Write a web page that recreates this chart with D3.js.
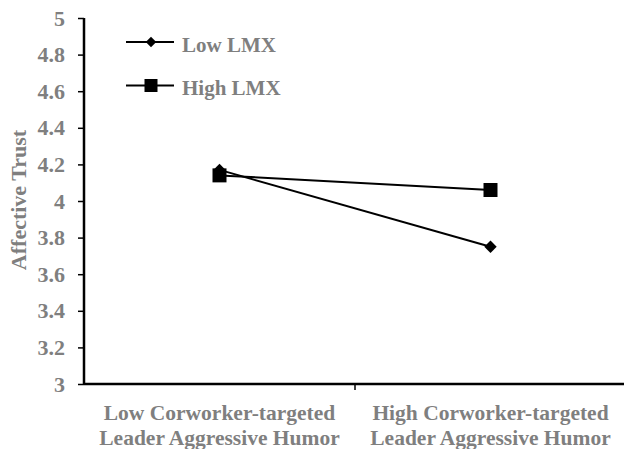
<!DOCTYPE html>
<html><head><meta charset="utf-8">
<script src="https://cdn.jsdelivr.net/npm/d3@7"></script>
<style>body{margin:0;background:#fff}svg{display:block}</style>
</head><body><svg id="c" width="624" height="449"></svg>
<script>
const categories = [["Low Corworker-targeted","Leader Aggressive Humor"],["High Corworker-targeted","Leader Aggressive Humor"]];
const seriesNames = ["Low LMX","High LMX"];
const lowLMX = [4.17, 3.75];
const highLMX = [4.14, 4.06];
const yTicks = [3,3.2,3.4,3.6,3.8,4,4.2,4.4,4.6,4.8,5];
const yTickLabels = ["3","3.2","3.4","3.6","3.8","4","4.2","4.4","4.6","4.8","5"];
const yTitle = "Affective Trust";

(function(){
const svg = d3.select("#c");
const gray = "#7f7f7f";
const font = "'Liberation Serif','Times New Roman',serif";
const mL = 84, mR = 626, mT = 18, mB = 384;

const x = d3.scaleBand().domain([0,1]).range([mL,mR]);
const y = d3.scaleLinear().domain([3,5]).range([mB,mT]);

// y axis
const ya = svg.append("g").attr("transform",`translate(${mL},0)`)
  .call(d3.axisLeft(y).tickValues(yTicks).tickFormat((d,i)=>yTickLabels[i]).tickSize(6).tickPadding(13));
ya.select(".domain").attr("stroke","#000").attr("stroke-width",2.5).attr("d",`M0,${mT}V${mB}`);
ya.selectAll(".tick line").attr("stroke","#000").attr("stroke-width",1.5);
ya.selectAll(".tick text").attr("fill",gray).attr("font-family",font).attr("font-weight","bold").attr("font-size",22);

// x axis
const xa = svg.append("g").attr("transform",`translate(0,${mB})`)
  .call(d3.axisBottom(x).tickFormat("").tickSize(0));
xa.select(".domain").attr("stroke","#000").attr("stroke-width",2.5).attr("d",`M${mL},0H${mR}`);
xa.selectAll(".tick").remove();
xa.append("line").attr("x1",x(1)).attr("x2",x(1)).attr("y1",0).attr("y2",6).attr("stroke","#000").attr("stroke-width",1.5);

// category labels
categories.forEach((lines,i)=>{
  const t = svg.append("text").attr("x",x(i)+x.bandwidth()/2).attr("y",420)
    .attr("text-anchor","middle").attr("fill",gray).attr("font-family",font)
    .attr("font-weight","bold").attr("font-size",21.5);
  lines.forEach((l,j)=>t.append("tspan").attr("x",x(i)+x.bandwidth()/2).attr("dy",j?24.5:0).text(l));
});

// y title
svg.append("text").attr("transform",`translate(26,200) rotate(-90)`).attr("text-anchor","middle")
  .attr("fill",gray).attr("font-family",font).attr("font-weight","bold").attr("font-size",22).text(yTitle);

const cx = i=>x(i)+x.bandwidth()/2;
const line = d3.line().x((d,i)=>cx(i)).y(d=>y(d));
const diamond = d3.symbol().type(d3.symbolDiamond2).size(98);
const square = d3.symbol().type(d3.symbolSquare).size(196);
const lDiamond = d3.symbol().type(d3.symbolDiamond2).size(70);
const lSquare = d3.symbol().type(d3.symbolSquare).size(169);

svg.append("path").attr("d",line(highLMX)).attr("fill","none").attr("stroke","#000").attr("stroke-width",2);
svg.append("path").attr("d",line(lowLMX)).attr("fill","none").attr("stroke","#000").attr("stroke-width",2);
highLMX.forEach((v,i)=>svg.append("path").attr("d",square()).attr("transform",`translate(${cx(i)},${y(v)})`).attr("fill","#000"));
lowLMX.forEach((v,i)=>svg.append("path").attr("d",diamond()).attr("transform",`translate(${cx(i)},${y(v)})`).attr("fill","#000"));

// legend
const legY = [42,85.5];
const syms = [lDiamond, lSquare];
seriesNames.forEach((n,i)=>{
  svg.append("line").attr("x1",126).attr("x2",174).attr("y1",legY[i]).attr("y2",legY[i]).attr("stroke","#000").attr("stroke-width",2);
  svg.append("path").attr("d",syms[i]()).attr("transform",`translate(151,${legY[i]})`).attr("fill","#000");
  svg.append("text").attr("x",182).attr("y",legY[i]+9.5).attr("fill",gray).attr("font-family",font)
    .attr("font-weight","bold").attr("font-size",21).text(n);
});
})();
</script></body></html>
